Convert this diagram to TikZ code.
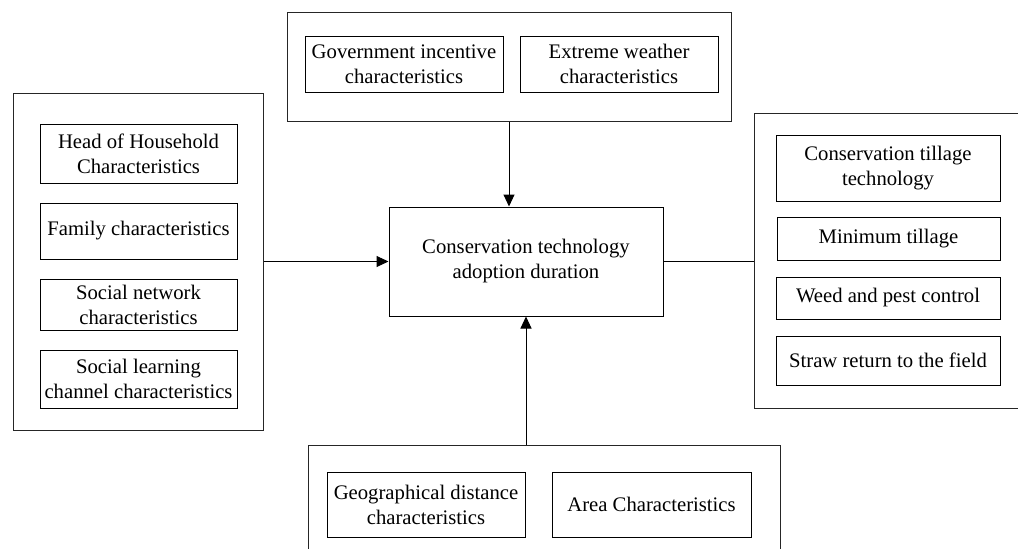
\documentclass[tikz,border=0pt]{standalone}
\usepackage{fontspec}
\setmainfont{Liberation Serif}
\usepackage{tikz}
\usetikzlibrary{positioning}
\usetikzlibrary{arrows.meta,shapes}
\usetikzlibrary{calc}
\newcommand{\factorfont}{\rmfamily\fontsize{20.7}{25}\selectfont}
\tikzstyle{groupbox}=[rectangle,draw=black!85,line width=1pt,inner sep=0pt]
\tikzstyle{factor}=[rectangle,draw=black,line width=1pt,align=center,inner sep=0pt,font=\factorfont]
\tikzstyle{edge} = [draw,line width=1pt,-{Triangle[length=12pt,width=11pt]}]
\tikzstyle{undirectededge} = [draw,line width=1pt]

\begin{document}
\begin{tikzpicture}[x=1pt,y=-1pt]

  \clip (0,0) rectangle (1018,549);
  \useasboundingbox (0,0) rectangle (1018,549);

  % outer groups
  \foreach \x/\y/\w/\h/\name in {509/66.5/444/109/top, 138/261.5/250/337/left,
                                   892/260.5/276/295/right, 544/502.5/472/115/bottom}
          \node[groupbox, minimum width=\w pt, minimum height=\h pt] (\name) at (\x, \y) {};

  % factors inside the groups
  \foreach \x/\y/\w/\h/\name/\label in {404/64/198/56/gov/{Government incentive\\characteristics},
                                          619/64/198/56/weather/{Extreme weather\\characteristics},
                                          138.5/153.5/197/59/head/{Head of Household\\Characteristics},
                                          138.5/231/197/56/family/{Family characteristics},
                                          138.5/304.5/197/51/network/{Social network\\characteristics},
                                          138.5/379/197/58/learning/{Social learning\\channel characteristics},
                                          888/168/224/66/tillage/{Conservation tillage\\technology},
                                          888.5/238.5/223/43/minimum/{Minimum tillage},
                                          888/298/224/42/weed/{Weed and pest control},
                                          888/360.5/224/49/straw/{Straw return to the field},
                                          426/504.5/198/65/geo/{Geographical distance\\characteristics},
                                          651.5/504.5/199/65/area/{Area Characteristics}}
          \node[factor, minimum width=\w pt, minimum height=\h pt] (\name) at (\x, \y) {\label};

  \node[factor, minimum width=274pt, minimum height=109pt] (core) at (526,261.5)
       {Conservation technology\\adoption duration};

  \path[edge] (top.south) -- (top.south |- core.north);
  \path[edge] (left.east) -- (core.west);
  \path[edge] (core.south |- bottom.north) -- (core.south);
  \path[undirectededge] (core.east) -- (core.east -| right.west);

\end{tikzpicture}
\end{document}
